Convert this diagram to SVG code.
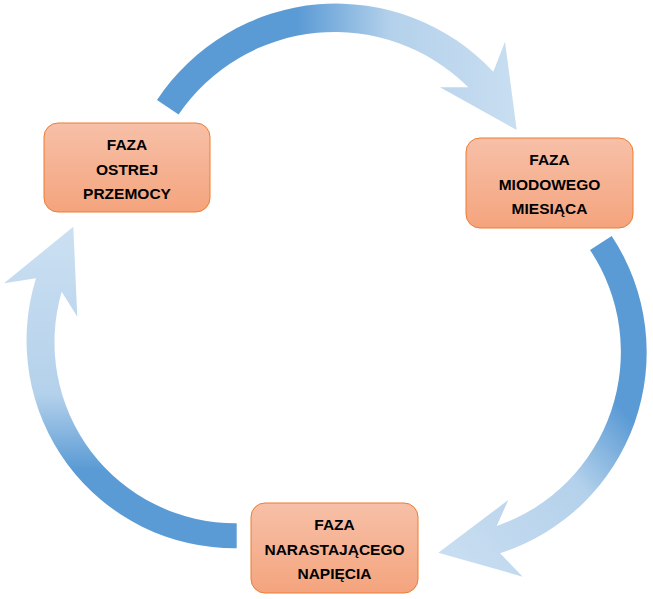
<svg xmlns="http://www.w3.org/2000/svg" width="653" height="599" viewBox="0 0 653 599">
  <style>
    .box { stroke: #ED7D31; stroke-width: 1; fill: url(#boxGrad); }
    .lbl { font-family: "Liberation Sans", Arial, sans-serif; font-weight: bold; font-size: 15.5px; fill: #000; text-anchor: middle; }
  </style>
  <defs>
    <linearGradient id="boxGrad" x1="0" y1="0" x2="0" y2="1">
      <stop offset="0" stop-color="#F7C0A8"/>
      <stop offset="1" stop-color="#F4A47D"/>
    </linearGradient>
    <linearGradient id="gTop" gradientUnits="userSpaceOnUse" x1="150" y1="0" x2="520" y2="0">
      <stop offset="0" stop-color="#5B9BD5"/>
      <stop offset="0.4" stop-color="#5B9BD5"/>
      <stop offset="0.65" stop-color="#B4D1EB"/>
      <stop offset="1" stop-color="#C9DEF1"/>
    </linearGradient>
    <linearGradient id="gRight" gradientUnits="userSpaceOnUse" x1="625" y1="395" x2="440" y2="560">
      <stop offset="0" stop-color="#5B9BD5"/>
      <stop offset="0.05" stop-color="#5B9BD5"/>
      <stop offset="0.38" stop-color="#B4D1EB"/>
      <stop offset="1" stop-color="#C9DEF1"/>
    </linearGradient>
    <linearGradient id="gLeft" gradientUnits="userSpaceOnUse" x1="0" y1="560" x2="0" y2="222">
      <stop offset="0" stop-color="#5B9BD5"/>
      <stop offset="0.27" stop-color="#5B9BD5"/>
      <stop offset="0.49" stop-color="#B4D1EB"/>
      <stop offset="1" stop-color="#CCE0F2"/>
    </linearGradient>
  </defs>
  <rect width="653" height="599" fill="#FFFFFF"/>
  <g id="connectors">
    <path id="arrow-top" fill="url(#gTop)" d="M157,100 A215,215 0 0 1 493.3,71.7 L505,41.7 L516.7,130 L440,87.3 L468.3,87.3 A189,189 0 0 0 178.6,114.4 Z"/>
    <path id="arrow-right" fill="url(#gRight)" d="M611.7,236 A211,211 0 0 1 500,553.3 L522.7,576.7 L438.3,552.7 L508.3,500 L496.7,526 A184,184 0 0 0 590,250 Z"/>
    <path id="arrow-left" fill="url(#gLeft)" d="M236.7,548.3 A208,208 0 0 1 36,278.3 L4,283.3 L73.3,226.7 L77.3,316.7 L61.7,291.7 A181,181 0 0 0 236.7,523.3 Z"/>
  </g>
  <g id="node-ostrej">
    <rect class="box" x="44" y="123" width="166" height="89" rx="14"/>
    <text class="lbl" x="127" y="150">FAZA</text>
    <text class="lbl" x="127" y="175">OSTREJ</text>
    <text class="lbl" x="127" y="199">PRZEMOCY</text>
  </g>
  <g id="node-miodowego">
    <rect class="box" x="466" y="138" width="167" height="90" rx="14"/>
    <text class="lbl" x="549.5" y="165">FAZA</text>
    <text class="lbl" x="549.5" y="190">MIODOWEGO</text>
    <text class="lbl" x="549.5" y="214">MIESIĄCA</text>
  </g>
  <g id="node-narastajacego">
    <rect class="box" x="251" y="503" width="167" height="90" rx="14"/>
    <text class="lbl" x="334.5" y="530">FAZA</text>
    <text class="lbl" x="334.5" y="555">NARASTAJĄCEGO</text>
    <text class="lbl" x="334.5" y="579">NAPIĘCIA</text>
  </g>
</svg>
